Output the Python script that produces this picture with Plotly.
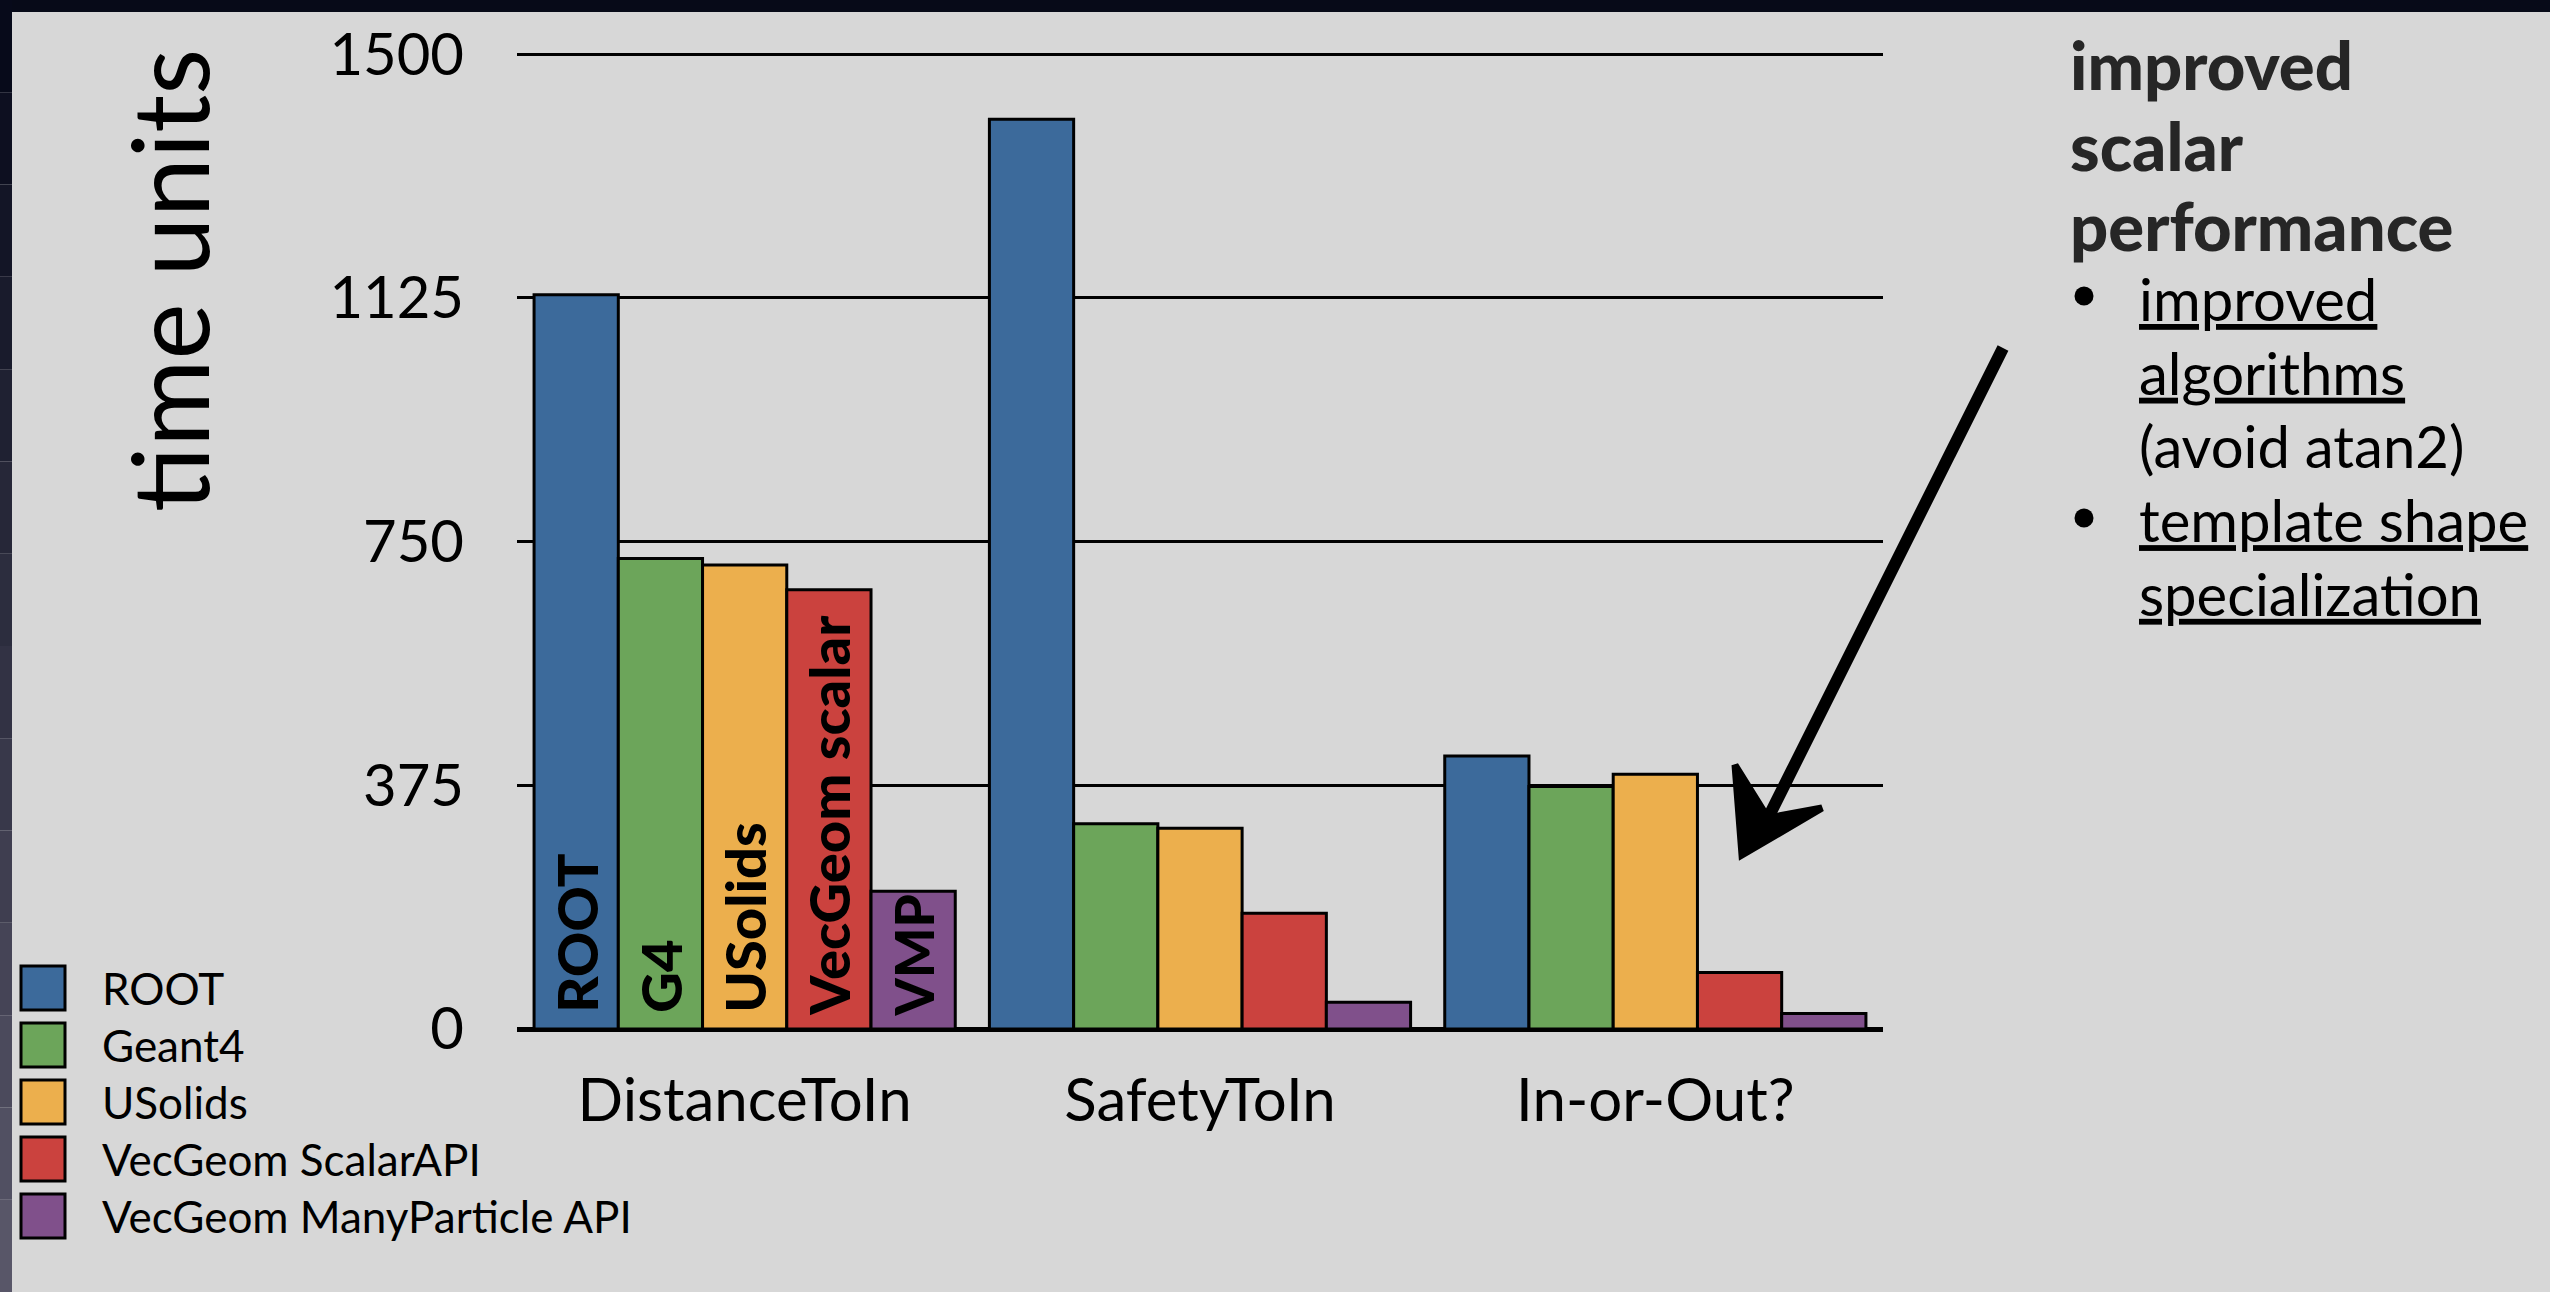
import plotly.graph_objects as go

# ---------------- data ----------------
categories = ["DistanceToIn", "SafetyToIn", "In-or-Out?"]
series_names = ["ROOT", "Geant4", "USolids", "VecGeom ScalarAPI", "VecGeom ManyParticle API"]
bar_labels = ["ROOT", "G4", "USolids", "VecGeom scalar", "VMP"]
root_vals = [1130, 1400, 420]
geant4_vals = [724, 316, 373]
usolids_vals = [714, 309, 392]
vecgeom_scalar_vals = [676, 178, 87]
vecgeom_mp_vals = [212, 41, 24]
y_ticks = [0, 375, 750, 1125, 1500]
y_title = "time units"
side_title = ["improved", "scalar", "performance"]
side_bullet_lines = ["<u>improved</u>", "<u>algorithms</u>", "(avoid atan2)",
                     "<u>template shape</u>", "<u>specialization</u>"]
bullet_line_index = [0, 3]

series_values = [root_vals, geant4_vals, usolids_vals, vecgeom_scalar_vals, vecgeom_mp_vals]
colors = ["#3C6A9B", "#6CA55A", "#ECAF4D", "#CB423E", "#80508B"]

# ---------------- geometry ----------------
W, H = 2550, 1292
ML, MR, MT, MB = 517, 667, 51, 263
PW, PH = W - ML - MR, H - MT - MB
FONT = "Lato, 'Gill Sans', 'Open Sans', sans-serif"


def px(x):
    return (x - ML) / PW


def py(y):
    return (H - MB - y) / PH


fig = go.Figure()
for i, (name, vals) in enumerate(zip(series_names, series_values)):
    fig.add_trace(go.Bar(
        x=categories, y=vals, name=name,
        marker=dict(color=colors[i], line=dict(color="black", width=3)),
        text=["\u00a0" + bar_labels[i], "", ""],
        textposition="inside", insidetextanchor="start", textangle=-90,
        insidetextfont=dict(family=FONT, size=56, color="black", weight=900),
        showlegend=False, hoverinfo="x+y+name",
    ))

shapes = []
annotations = []

# dark slide frame (top and left)
shapes.append(dict(type="rect", xref="paper", yref="paper", x0=px(0), x1=px(W), y0=py(12), y1=py(0),
                   fillcolor="#070A18", line=dict(width=0), layer="above"))
n_seg = 14
for k in range(n_seg):
    t = k / (n_seg - 1)
    c0 = (7, 10, 26)
    c1 = (88, 86, 104)
    col = "rgb(%d,%d,%d)" % tuple(int(a + (b - a) * t) for a, b in zip(c0, c1))
    shapes.append(dict(type="rect", xref="paper", yref="paper", x0=px(0), x1=px(12),
                       y0=py(H * (k + 1) / n_seg), y1=py(H * k / n_seg),
                       fillcolor=col, line=dict(width=0), layer="above"))

# legend (manual, large squares)
leg_y = [988, 1045, 1102, 1159, 1216]
for i, name in enumerate(series_names):
    yc = leg_y[i]
    shapes.append(dict(type="rect", xref="paper", yref="paper",
                       x0=px(21), x1=px(65), y0=py(yc + 22), y1=py(yc - 22),
                       fillcolor=colors[i], line=dict(color="black", width=3)))
    annotations.append(dict(text=name, xref="paper", yref="paper", x=px(100), y=py(yc),
                            xanchor="left", yanchor="middle", showarrow=False,
                            font=dict(family=FONT, size=44, color="black")))

# y-axis title
annotations.append(dict(text=y_title, xref="paper", yref="paper", x=px(168), y=py(280),
                        textangle=-90, xanchor="center", yanchor="middle", showarrow=False,
                        font=dict(family=FONT, size=106, color="black")))

# side text: heading (line spacing from base font size, glyphs sized via span)
heading = "<br>".join('<span style="font-size:67px">%s</span>' % t for t in side_title)
annotations.append(dict(text=heading, xref="paper", yref="paper", x=px(2068), y=py(144),
                        xanchor="left", yanchor="middle", align="left", showarrow=False,
                        font=dict(family=FONT, size=62, color="#262626", weight=900)))
body = "<br>".join('<span style="font-size:58px">%s</span>' % t for t in side_bullet_lines)
annotations.append(dict(text=body, xref="paper", yref="paper", x=px(2137), y=py(446),
                        xanchor="left", yanchor="middle", align="left", showarrow=False,
                        font=dict(family=FONT, size=56.7, color="black")))
# bullet dots
line_y = [296, 370, 444, 518, 592]
for j in bullet_line_index:
    cy = line_y[j]
    shapes.append(dict(type="circle", xref="paper", yref="paper",
                       x0=px(2084 - 9.5), x1=px(2084 + 9.5), y0=py(cy + 9.5), y1=py(cy - 9.5),
                       fillcolor="black", line=dict(width=0)))

# hand-drawn style arrow
sx, sy = 2003, 348
tx, ty = 1742, 855
lbx, lby = 1735, 765
rbx, rby = 1822, 808
mx, my = 1768, 818
shapes.append(dict(type="path", xref="paper", yref="paper",
                   path="M %f %f L %f %f" % (px(sx), py(sy), px(mx), py(my)),
                   line=dict(color="black", width=12)))
shapes.append(dict(type="path", xref="paper", yref="paper",
                   path="M %f %f L %f %f L %f %f L %f %f Z" % (px(tx), py(ty), px(lbx), py(lby),
                                                               px(mx), py(my), px(rbx), py(rby)),
                   fillcolor="black", line=dict(color="black", width=7)))

fig.update_layout(
    width=W, height=H,
    margin=dict(l=ML, r=MR, t=MT, b=MB, pad=0),
    paper_bgcolor="#D7D7D7", plot_bgcolor="#D7D7D7",
    barmode="group", bargap=0.075, bargroupgap=0,
    shapes=shapes, annotations=annotations,
    font=dict(family=FONT, color="black"),
    xaxis=dict(type="category", range=[-0.5, 2.5], showgrid=False, zeroline=False,
               showline=False, ticks="", ticklabelstandoff=31,
               tickfont=dict(family=FONT, size=60, color="black")),
    yaxis=dict(range=[0, 1505], tickvals=y_ticks, ticktext=[str(v) for v in y_ticks],
               showgrid=True, gridcolor="black", gridwidth=3,
               zeroline=True, zerolinecolor="black", zerolinewidth=5,
               showline=False, ticks="", ticklabelstandoff=52,
               tickfont=dict(family=FONT, size=58, color="black")),
)

fig.write_html("out.html")
